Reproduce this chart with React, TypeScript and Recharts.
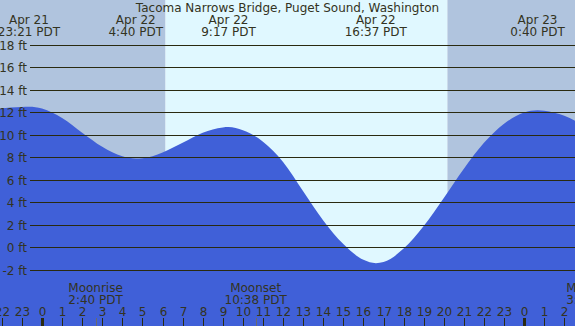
import React from 'react';
import { ComposedChart, Area, XAxis, YAxis, ReferenceArea, ReferenceLine } from 'recharts';

// hours relative to Apr 22 00:00 PDT
const tideHours = [-2.1, -1, -0.65, 0, 1, 2, 3, 4, 4.67, 5, 6, 7, 8, 9, 9.28, 10, 11, 12, 13, 14, 15, 16, 16.62, 17, 18, 19, 20, 21, 22, 23, 24, 24.67, 25, 26, 26.6];
const tideFeet = [12.35, 12.48, 12.5, 12.35, 11.5, 10.2, 8.95, 8.1, 7.9, 7.93, 8.45, 9.3, 10.2, 10.67, 10.7, 10.42, 9.4, 7.6, 5.0, 2.4, 0.3, -1.1, -1.4, -1.3, -0.1, 1.9, 4.4, 7.0, 9.3, 11.0, 12.0, 12.2, 12.15, 11.7, 11.2];

const extremeDays = ['Apr 21', 'Apr 22', 'Apr 22', 'Apr 22', 'Apr 23'];
const extremeTimes = ['23:21', '4:40', '9:17', '16:37', '0:40'];
const extremeDayOffsets = [-1, 0, 0, 0, 1];

const moonNames = ['Moonrise', 'Moonset', 'Moonrise'];
const moonTimes = ['2:40', '10:38', '3:27'];
const moonDayOffsets = [0, 0, 1];

const sunrise = 6.15;
const sunset = 20.18;
const hourTicks = [-2, -1, 0, 1, 2, 3, 4, 5, 6, 7, 8, 9, 10, 11, 12, 13, 14, 15, 16, 17, 18, 19, 20, 21, 22, 23, 24, 25, 26];
const feetTicks = [-2, 0, 2, 4, 6, 8, 10, 12, 14, 16, 18];

const X_MIN = -2.0906;
const X_MAX = 26.531;
const Y_MIN = -6.978;
const Y_MAX = 22;

const FONT = 'DejaVu Sans';
const TEXT = '#333322';
const LINE = '#2a2a10';

const toHour = (t: string, day: number) => {
  const [h, m] = t.split(':').map(Number);
  return day * 24 + h + m / 60;
};

const data = tideHours.map((h, i) => ({ h, ft: tideFeet[i] }));

const HourTick = (props: any) => {
  const { x1, hour } = props;
  const label = ((hour % 24) + 24) % 24;
  const x = Math.round(x1) + 0.5;
  return (
    <g>
      <line x1={x} x2={x} y1={318} y2={326} stroke={LINE} strokeWidth={label === 0 ? 3 : 1} />
      <text x={x} y={316} textAnchor="middle" fill={TEXT} fontFamily={FONT} fontSize={12}>{label}</text>
    </g>
  );
};

const GridLine = (props: any) => {
  const { x1, x2, y1 } = props;
  const y = Math.round(y1) + 0.5;
  return <line x1={x1} x2={x2} y1={y} y2={y} stroke={LINE} strokeWidth={1} shapeRendering="crispEdges" />;
};

const FeetLabel = (props: any) => {
  const { viewBox, value } = props;
  return (
    <text x={27} y={Math.round(viewBox.y) + 5} textAnchor="end" fill={TEXT} fontFamily={FONT} fontSize={12}>{`${value} ft`}</text>
  );
};

const TopLabel = (props: any) => {
  const { viewBox, day, time } = props;
  return (
    <g>
      <text x={viewBox.x} y={24} textAnchor="middle" fill={TEXT} fontFamily={FONT} fontSize={12}>{day}</text>
      <text x={viewBox.x} y={36} textAnchor="middle" fill={TEXT} fontFamily={FONT} fontSize={12}>{`${time} PDT`}</text>
    </g>
  );
};

const MoonLabel = (props: any) => {
  const { viewBox, name, time } = props;
  return (
    <g>
      <text x={viewBox.x} y={292} textAnchor="middle" fill={TEXT} fontFamily={FONT} fontSize={12}>{name}</text>
      <text x={viewBox.x} y={304} textAnchor="middle" fill={TEXT} fontFamily={FONT} fontSize={12}>{`${time} PDT`}</text>
    </g>
  );
};

const MoonTick = (props: any) => {
  const x = Math.round(props.x1) + 0.5;
  return <line x1={x} x2={x} y1={318} y2={326} stroke="#6b6b6b" strokeWidth={1} />;
};

export default function App() {
  return (
    <div style={{ position: 'relative', width: 575, height: 326 }}>
      <style>{'body{margin:0}'}</style>
      <ComposedChart width={575} height={326} data={data} margin={{ top: 0, right: 0, bottom: 0, left: 0 }}>
        <XAxis dataKey="h" type="number" domain={[X_MIN, X_MAX]} allowDataOverflow hide />
        <YAxis type="number" domain={[Y_MIN, Y_MAX]} allowDataOverflow hide />
        <ReferenceArea x1={X_MIN} x2={sunrise} y1={Y_MIN} y2={Y_MAX} fill="#b0c4de" fillOpacity={1} stroke="none" zIndex={-10} />
        <ReferenceArea x1={sunrise} x2={sunset} y1={Y_MIN} y2={Y_MAX} fill="#e0f8ff" fillOpacity={1} stroke="none" zIndex={-10} />
        <ReferenceArea x1={sunset} x2={X_MAX} y1={Y_MIN} y2={Y_MAX} fill="#b0c4de" fillOpacity={1} stroke="none" zIndex={-10} />
        <Area dataKey="ft" type="monotone" stroke="none" fill="#4060d8" fillOpacity={1} baseValue={Y_MIN} isAnimationActive={false} dot={false} activeDot={false} />
        {feetTicks.map((v) => (
          <ReferenceLine key={`g${v}`} segment={[{ x: -0.6, y: v }, { x: X_MAX, y: v }]} ifOverflow="visible"
            shape={<GridLine />} label={<FeetLabel value={v} />} />
        ))}
        {hourTicks.map((h) => (
          <ReferenceLine key={`h${h}`} x={h} ifOverflow="visible" shape={<HourTick hour={h} />} />
        ))}
        {extremeTimes.map((t, i) => (
          <ReferenceLine key={`e${i}`} x={toHour(t, extremeDayOffsets[i])} stroke="none" ifOverflow="visible"
            label={<TopLabel day={extremeDays[i]} time={t} />} />
        ))}
        {moonTimes.map((t, i) => (
          <ReferenceLine key={`m${i}`} x={toHour(t, moonDayOffsets[i])} ifOverflow="visible" shape={<MoonTick />}
            label={<MoonLabel name={moonNames[i]} time={t} />} />
        ))}
      </ComposedChart>
      <div style={{ position: 'absolute', left: 0, top: 1, width: 575, textAlign: 'center', fontFamily: FONT, fontSize: 12, lineHeight: '14px', color: TEXT, pointerEvents: 'none' }}>
        Tacoma Narrows Bridge, Puget Sound, Washington
      </div>
    </div>
  );
}
